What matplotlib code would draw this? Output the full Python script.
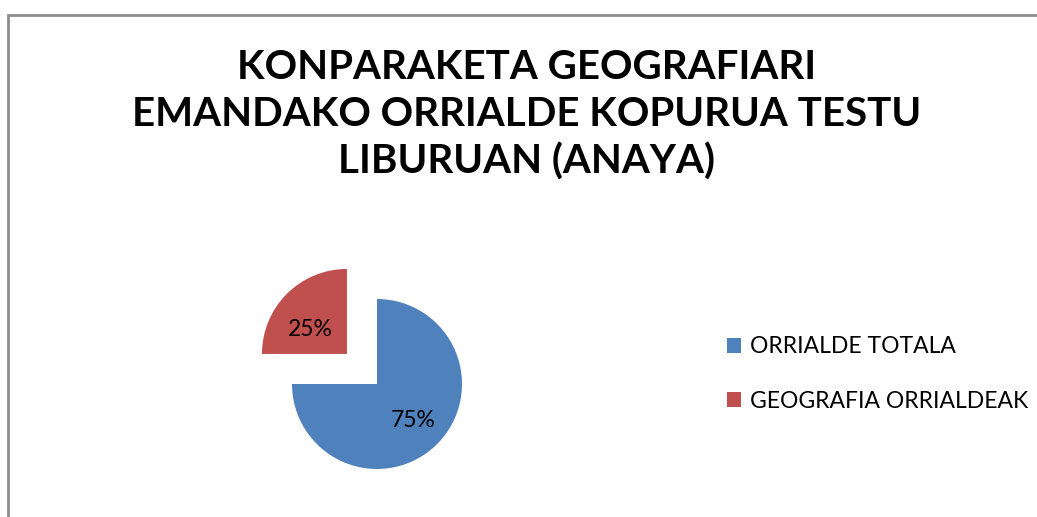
import matplotlib.pyplot as plt
from matplotlib.patches import Rectangle

# data
labels = ['ORRIALDE TOTALA', 'GEOGRAFIA ORRIALDEAK']
values = [75, 25]
colors = ['#4F81BD', '#C0504D']
explode = [0, 0.5]
title = 'KONPARAKETA GEOGRAFIARI\nEMANDAKO ORRIALDE KOPURUA TESTU\nLIBURUAN (ANAYA)'

W, H = 1037, 517
plt.rcParams['font.family'] = ['Lato', 'DejaVu Sans']
fig = plt.figure(figsize=(W / 100, H / 100), dpi=100)

# outer chart border (cut by the image edge on right/bottom)
fig.patches.append(Rectangle((8 / W, -0.1), 1.2, (H - 15) / H + 0.1,
                             transform=fig.transFigure, fill=False,
                             edgecolor='#8c8c8c', linewidth=2))

fig.text(527 / W, 1 - 115 / H, title, ha='center', va='center',
         fontsize=29, fontweight='bold', linespacing=1.33)

# pie: centre at (377, 384) px, radius 85 px
r = 85
cx, cy = 377, 384
side = 3 * r
ax = fig.add_axes([(cx - side / 2) / W, (H - cy - side / 2) / H, side / W, side / H])
wedges, texts, autotexts = ax.pie(values, colors=colors, explode=explode,
                                  startangle=90, counterclock=False,
                                  autopct='%1.0f%%', pctdistance=0.6,
                                  textprops={'fontsize': 16.5, 'color': 'black'})
# Excel places the small slice label a bit lower inside the slice
autotexts[1].set_position((-0.79, 0.64))
ax.set_xlim(-1.5, 1.5)
ax.set_ylim(-1.5, 1.5)
ax.set_aspect('equal')
ax.axis('off')

fig.legend(wedges, labels, loc='center left', bbox_to_anchor=(727 / W, 1 - 374 / H),
           frameon=False, fontsize=16.5, handlelength=0.62, handleheight=0.62,
           handletextpad=0.38, labelspacing=1.45, borderpad=0, borderaxespad=0)

plt.savefig('out.png', dpi=100)
